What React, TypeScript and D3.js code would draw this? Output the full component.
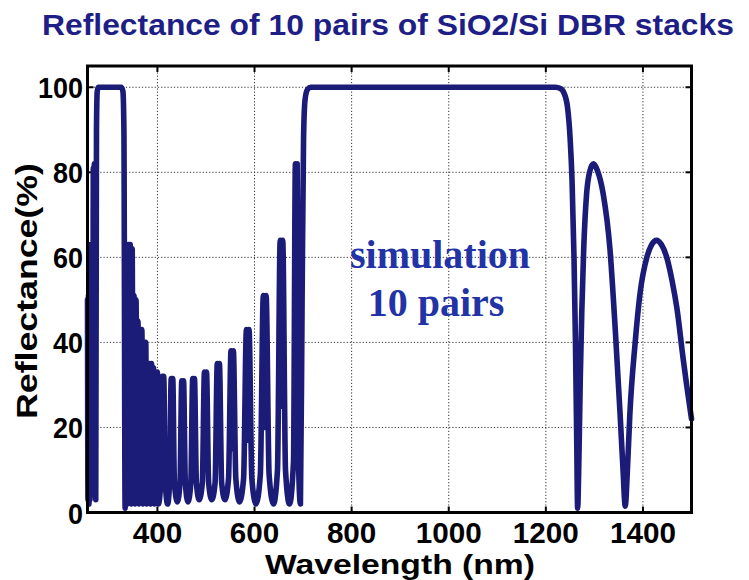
import React from "react";
import * as d3 from "d3";

const W = 749;
const H = 580;

const chartTitle = "Reflectance of 10 pairs of SiO2/Si DBR stacks";
const xTicks = [400, 600, 800, 1000, 1200, 1400];
const yTicks = [0, 20, 40, 60, 80, 100];
const annotation = ["simulation", "10 pairs"];

// [wavelength nm, reflectance %]
const blueEdge: [number, number][] = [
  [256, 50], [257, 3], [258, 51], [259, 2], [260, 52], [261, 3], [262, 63], [263, 4],
  [264, 63], [265, 6], [266, 63], [267, 12], [268, 81], [269, 10], [270, 82], [271, 14],
  [272, 82], [273, 3], [274.5, 90], [276, 99], [278, 100],
];
const uvStopbandEnd: [number, number][] = [
  [326, 100], [329, 99], [331, 90], [333.5, 1],
];
const uvFringes: [number, number][] = [
  [336, 60], [338, 2], [340, 63], [342, 3], [344, 63], [346, 2], [348, 62], [350, 3],
  [352, 51], [354, 2], [356, 50], [358, 3], [360, 45], [362, 2], [364, 43], [366, 3],
  [368, 43], [370, 2], [372, 40], [374, 3], [376, 40], [378, 2], [380, 35], [382, 3],
  [384, 35], [386, 2], [388, 35], [390, 3], [392, 34], [394, 2], [396, 33], [398, 3],
  [400, 33], [402, 2],
];
const visibleLobes: [number, number][] = [
  [406.8, 7], [410, 32], [411.5, 13], [413, 32], [416.3, 7], [421, 2],
  [425, 7], [428.4, 31.5], [430, 13], [431.6, 31.5], [435, 7], [441, 2.5],
  [446.5, 7], [450.2, 31], [452, 13], [453.8, 31], [457.5, 7], [463, 2.5],
  [468.8, 7], [472.7, 31.5], [474.5, 13], [476.3, 31.5], [480.3, 7], [486, 3],
  [492.5, 7], [496.9, 33], [499, 13], [501.1, 33], [505.5, 7], [512, 3],
  [518.8, 7], [523.3, 35], [525.5, 14], [527.7, 35], [532.3, 7], [539, 3],
  [546.5, 8], [551.6, 38], [554, 15], [556.4, 38], [561.5, 8], [569, 2.5],
  [577.5, 8], [583.3, 43], [586, 17], [588.7, 43], [594.5, 8], [603, 2],
  [612, 9], [618.1, 51], [621, 20], [623.9, 51], [630, 9], [639, 2],
  [647.3, 10], [652.9, 64], [655.5, 25], [658.1, 64], [663.8, 10], [672, 2],
  [680.3, 12], [684.2, 82], [686, 30], [687.8, 82], [690.6, 12], [694.5, 2],
];
const mainStopbandRise: [number, number][] = [
  [698, 50], [701, 88], [704, 97], [709, 99.5], [716, 100],
];
const nirSidelobes: [number, number][] = [
  [1220, 100], [1230, 99.7], [1238, 98.5], [1245, 95], [1250, 88], [1254, 78], [1258, 60],
  [1261, 40], [1263.5, 18], [1265.5, 1], [1268, 12], [1271, 32], [1274, 47], [1278, 62],
  [1284, 75], [1290, 80], [1298, 82], [1306, 80.5], [1318, 75], [1332, 62], [1343, 43],
  [1353, 23], [1359, 10], [1363.5, 1.5], [1368, 10], [1373, 23], [1384, 40], [1394, 51.5],
  [1408, 60], [1418, 63], [1428, 64], [1438, 63], [1449, 60], [1460, 54.5], [1470, 48],
  [1483, 36], [1490, 30], [1500, 22],
];

const spectrum = [
  ...blueEdge, ...uvStopbandEnd, ...uvFringes, ...visibleLobes, ...mainStopbandRise, ...nirSidelobes,
];

export default function App() {
  const left = 87.5, right = 691.5, top = 66, bottom = 512.5;
  const x = d3.scaleLinear().domain([256, 1500]).range([left, right]);
  const y = d3.scaleLinear().domain([0, 105]).range([bottom, top]);
  const line = d3
    .line<[number, number]>()
    .x((d) => x(d[0]))
    .y((d) => y(d[1]))
    .curve(d3.curveMonotoneX);

  const lineColor = "#1b1b78";
  const tickFont = "'Liberation Sans', Arial, sans-serif";

  return (
    <svg width={W} height={H} style={{ position: "absolute", left: 0, top: 0, background: "#fff" }}>
      <rect x={0} y={0} width={W} height={H} fill="#fff" />
      {/* grid */}
      <g stroke="#333" strokeWidth={1} strokeDasharray="1.2,2">
        {xTicks.map((t) => (
          <line key={"gx" + t} x1={x(t)} x2={x(t)} y1={top} y2={bottom} />
        ))}
        {yTicks.filter((t) => t > 0).map((t) => (
          <line key={"gy" + t} x1={left} x2={right} y1={y(t)} y2={y(t)} />
        ))}
      </g>
      {/* tick marks */}
      <g stroke="#000" strokeWidth={2}>
        {xTicks.map((t) => (
          <g key={"tx" + t}>
            <line x1={x(t)} x2={x(t)} y1={bottom} y2={bottom - 6} />
            <line x1={x(t)} x2={x(t)} y1={top} y2={top + 6} />
          </g>
        ))}
        {yTicks.map((t) => (
          <g key={"ty" + t}>
            <line x1={left} x2={left + 6} y1={y(t)} y2={y(t)} />
            <line x1={right} x2={right - 6} y1={y(t)} y2={y(t)} />
          </g>
        ))}
      </g>
      {/* curve */}
      <path
        d={line(spectrum) || ""}
        fill="none"
        stroke={lineColor}
        strokeWidth={5.6}
        strokeLinejoin="round"
        strokeLinecap="round"
      />
      {/* frame */}
      <rect x={left} y={top} width={right - left} height={bottom - top} fill="none" stroke="#000" strokeWidth={3} />
      {/* tick labels */}
      <g fontFamily={tickFont} fontWeight="bold" fontSize={30} fill="#000">
        {xTicks.map((t) => (
          <text
            key={"lx" + t}
            x={x(t)}
            y={543}
            textAnchor="middle"
            textLength={String(t).length * 16.5}
            lengthAdjust="spacingAndGlyphs"
          >
            {t}
          </text>
        ))}
        {yTicks.map((t) => (
          <text
            key={"ly" + t}
            x={83}
            y={y(t) + 11}
            textAnchor="end"
            textLength={String(t).length * 15}
            lengthAdjust="spacingAndGlyphs"
          >
            {t}
          </text>
        ))}
      </g>
      {/* axis labels */}
      <text
        x={400}
        y={574}
        textAnchor="middle"
        fontFamily={tickFont}
        fontWeight="bold"
        fontSize={27}
        textLength={270}
        lengthAdjust="spacingAndGlyphs"
      >
        Wavelength (nm)
      </text>
      <text
        transform="translate(37,291) rotate(-90)"
        textAnchor="middle"
        fontFamily={tickFont}
        fontWeight="bold"
        fontSize={30}
        textLength={256}
        lengthAdjust="spacingAndGlyphs"
      >
        Reflectance(%)
      </text>
      {/* title */}
      <text
        x={42}
        y={35}
        fontFamily={tickFont}
        fontWeight="bold"
        fontSize={30}
        fill="#1e1e86"
        textLength={692}
        lengthAdjust="spacingAndGlyphs"
      >
        {chartTitle}
      </text>
      {/* annotation */}
      <g fontFamily="'Liberation Serif', 'Times New Roman', serif" fontWeight="bold" fontSize={40} fill="#2233a6" textAnchor="middle">
        <text x={440} y={268}>{annotation[0]}</text>
        <text x={436} y={316}>{annotation[1]}</text>
      </g>
    </svg>
  );
}
